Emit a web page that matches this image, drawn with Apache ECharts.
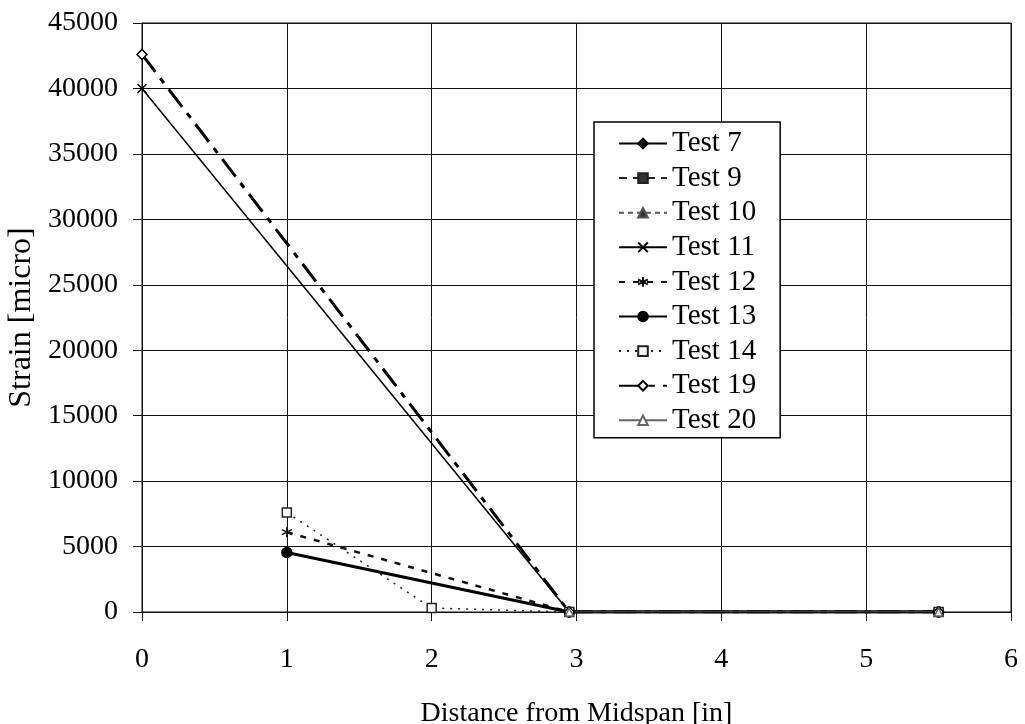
<!DOCTYPE html>
<html>
<head>
<meta charset="utf-8">
<script src="https://cdn.jsdelivr.net/npm/echarts@6/dist/echarts.min.js"></script>
<style>html,body{margin:0;padding:0;background:#fff}#c{width:1025px;height:724px}</style>
</head>
<body>
<div id="c"></div>
<script>
const seriesNames = ['Test 7','Test 9','Test 10','Test 11','Test 12','Test 13','Test 14','Test 19','Test 20'];
const xTest7  = [2.95, 5.5];        const yTest7  = [0, 0];
const xTest9  = [2.95, 5.5];        const yTest9  = [0, 0];
const xTest10 = [2.95, 5.5];        const yTest10 = [0, 0];
const xTest11 = [0, 2.95, 5.5];     const yTest11 = [40000, 0, 0];
const xTest12 = [1, 2.95, 5.5];     const yTest12 = [6100, 0, 0];
const xTest13 = [1, 2.95, 5.5];     const yTest13 = [4550, 0, 0];
const xTest14 = [1, 2, 2.95, 5.5];  const yTest14 = [7600, 300, 0, 0];
const xTest19 = [0, 2.95, 5.5];     const yTest19 = [42600, 0, 0];
const xTest20 = [2.95, 5.5];        const yTest20 = [0, 0];
const xTicks = [0,1,2,3,4,5,6];
const yTicks = [0,5000,10000,15000,20000,25000,30000,35000,40000,45000];

const xs = [xTest7,xTest9,xTest10,xTest11,xTest12,xTest13,xTest14,xTest19,xTest20];
const ys = [yTest7,yTest9,yTest10,yTest11,yTest12,yTest13,yTest14,yTest19,yTest20];

const FONT = 'Liberation Serif';
const styles = [
  {color:'#000', width:3,   type:'solid',      symbol:'diamond', size:9,  fill:'#000'},
  {color:'#222', width:1.5, type:[8,6],        symbol:'rect',    size:7,  fill:'#333'},
  {color:'#555', width:1.2, type:[5,4],        symbol:'triangle',size:8,  fill:'#333'},
  {color:'#000', width:1.5, type:'solid',      symbol:'path://M0,0L10,10M10,0L0,10', size:9, fill:'none'},
  {color:'#111', width:2.5, type:[6,8],        symbol:'path://M5,0L5,10M0,2.5L10,7.5M0,7.5L10,2.5', size:10, fill:'none'},
  {color:'#000', width:3,   type:'solid',      symbol:'circle',  size:10, fill:'#000'},
  {color:'#222', width:1.5, type:[2,6],        symbol:'rect',    size:9,  fill:'#fff'},
  {color:'#000', width:3,   type:[22,8,6,8],   symbol:'diamond', size:10, fill:'#fff'},
  {color:'#666', width:1,   type:'solid',      symbol:'triangle',size:8,  fill:'#fff'}
];

const series = seriesNames.map((name,i)=>{
  const s = styles[i];
  return {
    name, type:'line',
    data: xs[i].map((x,j)=>[x, ys[i][j]]),
    symbol: s.symbol, symbolSize: s.size,
    showAllSymbol: true,
    lineStyle:{color:s.color, width:s.width, type:s.type},
    itemStyle:{color: s.fill==='none' ? 'rgba(0,0,0,0)' : s.fill, borderColor:s.color, borderWidth:1.5},
    emphasis:{disabled:true},
    animation:false
  };
});

const chart = echarts.init(document.getElementById('c'), null, {renderer:'canvas'});
chart.setOption({
  animation:false,
  backgroundColor:'#fff',
  grid:{left:142, right:14, top:23, bottom:112, show:true, borderColor:'#111', borderWidth:1, containLabel:false, outerBoundsMode:'none'},
  legend:{
    orient:'vertical', left:594, top:122,
    backgroundColor:'#fff', borderColor:'#000', borderWidth:1.5,
    padding:[7,24,3,24], itemGap:5.6, itemWidth:48, itemHeight:12,
    textStyle:{fontFamily:FONT, fontSize:29, color:'#000'},
    data: seriesNames
  },
  xAxis:{
    type:'value', min:0, max:6, interval:1,
    name:'Distance from Midspan [in]', nameLocation:'middle', nameGap:88,
    nameTextStyle:{fontFamily:FONT, fontSize:28, color:'#000'},
    axisLine:{show:true, onZero:false, lineStyle:{color:'#111', width:1}},
    axisTick:{show:true, length:9, lineStyle:{color:'#111'}},
    axisLabel:{fontFamily:FONT, fontSize:28, color:'#000', margin:34, formatter:v=>xTicks.includes(v)?String(v):''},
    splitLine:{show:true, lineStyle:{color:'#111', width:1}}
  },
  yAxis:{
    type:'value', min:0, max:45000, interval:5000,
    name:'Strain [micro]', nameLocation:'middle', nameGap:93,
    nameTextStyle:{fontFamily:FONT, fontSize:32, color:'#000'},
    axisLine:{show:true, lineStyle:{color:'#111', width:1}},
    axisTick:{show:true, length:9, lineStyle:{color:'#111'}},
    axisLabel:{fontFamily:FONT, fontSize:28, color:'#000', margin:24, formatter:v=>yTicks.includes(v)?String(v):''},
    splitLine:{show:true, lineStyle:{color:'#111', width:1}}
  },
  series
});
</script>
</body>
</html>
